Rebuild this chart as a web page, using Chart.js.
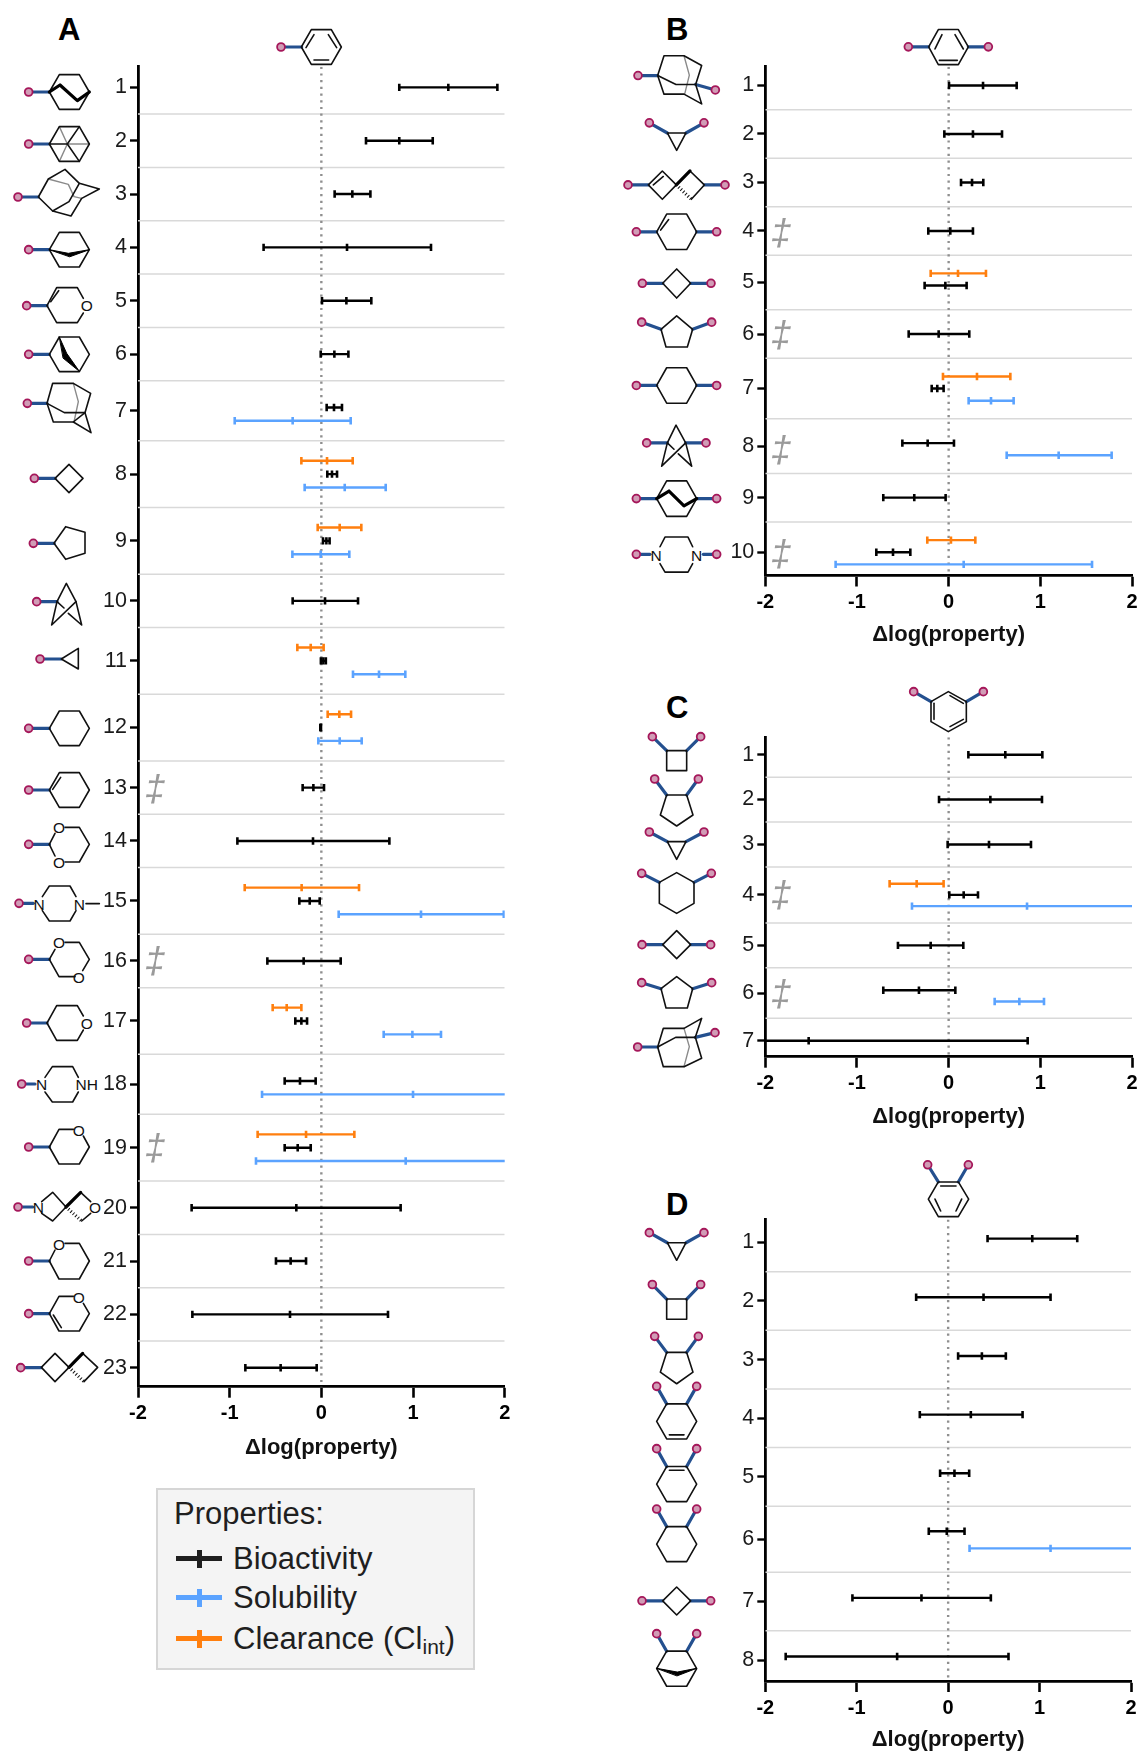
<!DOCTYPE html>
<html>
<head>
<meta charset="utf-8">
<title>Delta log(property)</title>
<script src="https://cdn.jsdelivr.net/npm/chart.js@4/dist/chart.umd.min.js"></script>
<style>
html, body { margin: 0; padding: 0; background: #fff; }
#page { position: relative; width: 1140px; height: 1753px; overflow: hidden; font-family: "Liberation Sans", Arial, sans-serif; }
#page canvas { position: absolute; }
#mols { position: absolute; left: 0; top: 0; }
.letter { position: absolute; font-weight: bold; font-size: 31px; line-height: 1; color: #000; transform: translate(-50%, -50%); }
.dagger { position: absolute; font-style: italic; font-size: 37px; line-height: 1; color: #9a9a9a; transform: translate(-50%, -50%); }
#legend { position: absolute; left: 156px; top: 1488px; width: 315px; height: 178px; background: #f4f4f4; border: 2px solid #d6d6d6; color: #1f1f1f; font-size: 31px; }
#legend div { position: absolute; left: 231px; line-height: 1; white-space: nowrap; }
#legend span.mark { position: absolute; left: 18px; width: 46px; height: 5px; }
#legend span.mark i { position: absolute; left: 20.5px; top: -6.5px; width: 5px; height: 18px; background: inherit; }
#legend sub { font-size: 21px; line-height: 0; vertical-align: -5px; }
</style>
</head>
<body>
<div id="page">
  <svg id="mols" width="1140" height="1753"></svg>
  <canvas id="panelA" width="490" height="1411" style="left:60px;top:50px"></canvas>
  <canvas id="panelB" width="452" height="598" style="left:700px;top:50px"></canvas>
  <canvas id="panelC" width="452" height="410" style="left:700px;top:720px"></canvas>
  <canvas id="panelD" width="452" height="553" style="left:700px;top:1200px"></canvas>
  <div id="legend">
    <div style="left:16px;top:8px">Properties:</div>
    <span class="mark" style="top:66px;background:#1f1f1f"><i></i></span><div style="left:75px;top:53px">Bioactivity</div>
    <span class="mark" style="top:105px;background:#5ba3ff"><i></i></span><div style="left:75px;top:92px">Solubility</div>
    <span class="mark" style="top:146px;background:#ff7f0e"><i></i></span><div style="left:75px;top:133px">Clearance (Cl<sub>int</sub>)</div>
  </div>
</div>
<script>
const aLabels = ['1','2','3','4','5','6','7','8','9','10','11','12','13','14','15','16','17','18','19','20','21','22','23'];
const aBio = [[.85,1.385,1.92],[.487,.85,1.215],[.145,.338,.535],[-.63,.28,1.196],[.007,.273,.545],[-.007,.142,.295],[.058,.138,.225],[.065,.116,.171],[.018,.055,.09],[-.313,.04,.4],[-.005,.022,.049],[-.011,-.007,-.004],[-.204,-.087,.029],[-.916,-.091,.742],[-.24,-.127,-.018],[-.589,-.193,.211],[-.284,-.218,-.156],[-.4,-.233,-.062],[-.4,-.258,-.116],[-1.415,-.273,.865],[-.495,-.335,-.167],[-1.407,-.342,.727],[-.829,-.444,-.051]];
const aSol = [null,null,null,null,null,null,[-.945,-.313,.32],[-.182,.255,.702],[-.316,-.007,.305],null,[.345,.629,.916],[-.033,.2,.44],null,null,[.189,1.087,1.99],null,[.68,.993,1.305],[-.647,1,2.65],[-.713,.92,2.55],null,null,null,null];
const aClr = [null,null,null,null,null,null,null,[-.218,.062,.342],[-.04,.2,.436],null,[-.262,-.116,.025],[.069,.196,.324],null,null,[-.836,-.215,.411],null,[-.531,-.378,-.218],null,[-.695,-.167,.36],null,null,null,null];

const bLabels = ['1','2','3','4','5','6','7','8','9','10'];
const bBio = [[.004,.375,.742],[-.047,.265,.582],[.135,.255,.378],[-.222,.018,.265],[-.262,-.036,.196],[-.436,-.109,.225],[-.185,-.124,-.055],[-.505,-.229,.058],[-.713,-.375,-.033],[-.789,-.607,-.418]];
const bSol = [null,null,null,null,null,null,[.218,.462,.709],[.633,1.2,1.778],null,[-1.233,.164,1.564]];
const bClr = [null,null,null,null,[-.196,.102,.407],null,[-.062,.309,.673],null,null,[-.233,.025,.291]];

const cLabels = ['1','2','3','4','5','6','7'];
const cBio = [[.215,.618,1.022],[-.105,.455,1.018],[-.011,.44,.898],[.007,.164,.32],[-.553,-.196,.16],[-.713,-.324,.073],[-3.9,-1.527,.862]];
const cSol = [null,null,null,[-.4,.855,2.11],null,[.502,.771,1.04],null];
const cClr = [null,null,null,[-.644,-.349,-.055],null,null,null];

const dLabels = ['1','2','3','4','5','6','7','8'];
const dBio = [[.431,.92,1.412],[-.35,.387,1.12],[.109,.369,.631],[-.31,.248,.814],[-.088,.069,.23],[-.212,-.015,.179],[-1.047,-.292,.467],[-1.777,-.558,.66]];
const dSol = [null,null,null,null,null,[.234,1.12,2.02],null,null];
const dClr = [null,null,null,null,null,null,null,null];

const xTicks = [-2,-1,0,1,2];
const xTitle = '\u0394log(property)';

const BLACK = '#000000', BLUE = '#5ba3ff', ORANGE = '#ff7f0e';

function seriesDataset(points, color){
    return {
        data: points,
        showLine: true,
        spanGaps: false,
        borderColor: color,
        borderWidth: 2.4,
        pointStyle: 'line',
        pointRotation: 90,
        pointRadius: 3.7,
        pointBorderWidth: 2.6,
        pointBorderColor: color,
        pointHoverRadius: 3.7
    };
}

function buildPanel(id, p){
    // row height in y units depends on how many properties the row has
    var centers = [], bounds = [], top = 0;
    var bio = [], sol = [], clr = [];
    var spread = p.spread || 1, shift = p.shift || 0;
    p.labels.forEach(function(l, i){
        var hasB = !!p.bio[i], hasS = !!p.sol[i], hasC = !!p.clr[i];
        var n = hasB + hasS + hasC;
        var h = 4 + (n - 1) * 0.5;
        var mid = top + h / 2;
        var off = n === 3 ? 0 : n === 2 ? (hasC ? 0.25 : -0.25) : 0;
        function add(list, v, slot){
            var y = mid + (slot + off) * spread + shift;
            list.push({x: v[0], y: y}, {x: v[1], y: y}, {x: v[2], y: y}, {x: null, y: null});
        }
        if(hasC) add(clr, p.clr[i], -1);
        if(hasB) add(bio, p.bio[i], 0);
        if(hasS) add(sol, p.sol[i], 1);
        centers.push(mid);
        top += h;
        if(i < p.labels.length - 1) bounds.push(top);
    });
    var yMin = 0.45, yMax = top - 0.58;
    var rowLines = [];
    bounds.forEach(function(b){
        rowLines.push({x: -2, y: b}, {x: 2, y: b}, {x: null, y: null});
    });
    var canvas = document.getElementById(id);
    new Chart(canvas.getContext('2d'), {
        type: 'scatter',
        data: {
            datasets: [
                seriesDataset(clr, ORANGE),
                seriesDataset(bio, BLACK),
                seriesDataset(sol, BLUE),
                {data: [{x: 0, y: yMin}, {x: 0, y: yMax}], showLine: true, borderColor: '#8f8f8f', borderWidth: 2.4, borderDash: [2.2, 4.5], pointRadius: 0},
                {data: rowLines, showLine: true, spanGaps: false, borderColor: '#d9d9d9', borderWidth: 1.5, pointRadius: 0}
            ]
        },
        options: {
            responsive: false,
            animation: false,
            events: [],
            layout: {padding: {left: 0, top: p.plotTop - p.canvasTop, right: p.canvasRight - p.plotRight, bottom: 0}},
            plugins: {legend: {display: false}, tooltip: {enabled: false}},
            scales: {
                x: {
                    type: 'linear',
                    min: -2,
                    max: 2,
                    afterBuildTicks: function(axis){ axis.ticks = xTicks.map(function(v){ return {value: v}; }); },
                    afterFit: function(axis){ axis.height = canvas.height - (p.plotBottom - p.canvasTop); },
                    border: {color: '#000', width: 2.8},
                    grid: {drawOnChartArea: false, drawTicks: true, tickLength: 11, tickWidth: 2.6, tickColor: '#000'},
                    ticks: {
                        color: '#000',
                        padding: 4,
                        autoSkip: false,
                        maxRotation: 0,
                        font: {family: '"Liberation Sans"', size: 20, weight: 'bold'},
                        callback: function(v){ return String(v); }
                    },
                    title: {display: true, text: xTitle, color: '#111', padding: {top: 0, bottom: 0}, font: {family: '"Liberation Sans"', size: 22, weight: 'bold'}}
                },
                y: {
                    type: 'linear',
                    reverse: true,
                    min: yMin,
                    max: yMax,
                    afterBuildTicks: function(axis){ axis.ticks = centers.map(function(v){ return {value: v}; }); },
                    afterFit: function(axis){ axis.width = p.plotLeft - p.canvasLeft; },
                    border: {color: '#000', width: 2.8},
                    grid: {drawOnChartArea: false, drawTicks: true, tickLength: 8, tickWidth: 2.4, tickColor: '#000'},
                    ticks: {
                        color: '#1a1a1a',
                        padding: 3,
                        autoSkip: false,
                        font: {family: '"Liberation Sans"', size: 21.5},
                        callback: function(v, i){ return p.labels[i]; }
                    }
                }
            }
        }
    });
}

buildPanel('panelA', {labels: aLabels, bio: aBio, sol: aSol, clr: aClr, canvasLeft: 60, canvasTop: 50, canvasRight: 550, plotLeft: 138, plotRight: 504.7, plotTop: 66.7, plotBottom: 1386.7});
buildPanel('panelB', {labels: bLabels, bio: bBio, sol: bSol, clr: bClr, canvasLeft: 700, canvasTop: 50, canvasRight: 1152, plotLeft: 765.3, plotRight: 1132, plotTop: 66.7, plotBottom: 575.5});
buildPanel('panelC', {labels: cLabels, bio: cBio, sol: cSol, clr: cClr, canvasLeft: 700, canvasTop: 720, canvasRight: 1152, plotLeft: 765.3, plotRight: 1132, plotTop: 737.3, plotBottom: 1056.7});
buildPanel('panelD', {labels: dLabels, bio: dBio, sol: dSol, clr: dClr, canvasLeft: 700, canvasTop: 1200, canvasRight: 1152, plotLeft: 765.3, plotRight: 1131, plotTop: 1219.6, plotBottom: 1681, shift: -0.25, spread: 1.17});

// structures, drawn in crop coordinates of each panel
var svg = document.getElementById('mols');
var NS = 'http://www.w3.org/2000/svg';

function el(tag, attrs, text){
    var e = document.createElementNS(NS, tag);
    for(var k in attrs) e.setAttribute(k, attrs[k]);
    if(text) e.textContent = text;
    svg.appendChild(e);
    return e;
}
function hexFlat(x, y, dy){
    return 'M'+(x-60)+','+y+' L'+(x-30)+','+(y-dy)+' L'+(x+30)+','+(y-dy)+' L'+(x+60)+','+y+' L'+(x+30)+','+(y+dy)+' L'+(x-30)+','+(y+dy)+' Z';
}
function mol(ox, oy, sx, sy, m){
    var tr = 'translate('+ox+','+oy+') scale('+sx+','+sy+')';
    function path(d, stroke, w, fill){
        el('path', {d: d, transform: tr, fill: fill || 'none', stroke: stroke, 'stroke-width': w, 'stroke-linejoin': 'round', 'stroke-linecap': 'round', 'vector-effect': 'non-scaling-stroke'});
    }
    (m.bonds || []).forEach(function(b){
        path('M'+b[0]+','+b[1]+' L'+b[2]+','+b[3], '#24508f', 3.2);
    });
    (m.grey || []).forEach(function(d){ path(d, '#8a8a8a', 1.4); });
    (m.ring || []).forEach(function(d){ path(d, '#111', 1.6); });
    (m.thick || []).forEach(function(d){ path(d, '#000', 3.2); });
    (m.fill || []).forEach(function(d){ path(d, '#000', 1, '#000'); });
    (m.hash || []).forEach(function(d){
        el('path', {d: d, transform: tr, fill: 'none', stroke: '#111', 'stroke-width': 3.4, 'stroke-dasharray': '1 2.2', 'vector-effect': 'non-scaling-stroke'});
    });
    (m.bonds || []).forEach(function(b){
        el('circle', {cx: ox + b[0]*sx, cy: oy + b[1]*sy, r: 3.9, fill: '#d19cb6', stroke: '#a5175a', 'stroke-width': 1.8});
    });
    (m.atoms || []).forEach(function(a){
        el('text', {x: ox + a[1]*sx, y: oy + a[2]*sy + 5.5, 'text-anchor': 'middle', 'font-family': '"Liberation Sans"', 'font-size': 15.5, fill: '#111'}, a[0]);
    });
}
var T = 1/3;

// panel A, crop units are 3x page pixels
[
  {bonds:[[843,141,905,141]], ring:[hexFlat(964,141,52),'M918,143 L942,104','M985,104 L1010,143','M942,180 L986,180']},
  {bonds:[[86,276,148,276]], ring:[hexFlat(208,276,52)], thick:['M148,276 L180,255 L232,302 L268,276']},
  {bonds:[[86,432,148,432]], ring:[hexFlat(208,432,52),'M148,432 L202,432','M238,380 L202,432 L238,484'], grey:['M178,380 L202,432 L178,484','M202,432 L268,432']},
  {bonds:[[54,591,115,591]], ring:['M115,591 L145,537 L195,508 L238,550 L298,567 L245,595 L213,648 L158,633 Z','M238,550 L207,605 L158,633'], grey:['M145,537 L205,553 L222,590 L245,595']},
  {bonds:[[86,749,148,749]], ring:[hexFlat(208,749,52)], fill:['M148,749 L205,760 L268,749 L210,770 Z']},
  {bonds:[[80,917,141,917]], ring:['M141,917 L170,863 L232,863 L250,895','M250,939 L232,968 L170,968 L141,917','M152,905 L176,872'], atoms:[['O',260,917]]},
  {bonds:[[86,1063,148,1063]], ring:[hexFlat(208,1063,52)], fill:['M178,1011 L200,1060 L238,1114 L190,1075 Z']},
  {bonds:[[82,1210,141,1210]], ring:['M141,1210 L158,1150 L220,1150 L272,1180 L255,1238 L273,1298 L220,1266 L160,1266 Z','M141,1210 L193,1238 L255,1238','M255,1238 L220,1266'], grey:['M220,1150 L235,1205 L222,1266']},
  {bonds:[[103,1435,165,1435]], ring:['M165,1435 L207,1393 L249,1435 L207,1478 Z']},
  {bonds:[[100,1630,162,1630]], ring:['M162,1630 L197,1580 L255,1597 L255,1660 L197,1678 Z']},
  {bonds:[[110,1805,171,1805]], ring:['M199,1750 L171,1805 L155,1875 L228,1805 Z','M228,1805 L245,1875 L205,1840','M171,1805 L192,1824']},
  {bonds:[[120,1977,184,1977]], ring:['M184,1977 L235,1945 L235,2007 Z']},
  {bonds:[[86,2185,148,2185]], ring:[hexFlat(208,2185,52)]},
  {bonds:[[86,2370,148,2370]], ring:[hexFlat(208,2370,52),'M158,2368 L182,2332']},
  {bonds:[[86,2533,148,2533]], ring:['M148,2533 L165,2500','M148,2533 L165,2568','M195,2482 L238,2482 L268,2533 L238,2586 L195,2586'], atoms:[['O',177,2482],['O',177,2586]]},
  {bonds:[[57,2710,100,2710]], ring:['M127,2690 L148,2658 L210,2658 L228,2690','M127,2732 L148,2763 L210,2763 L228,2732','M258,2711 L298,2711'], atoms:[['N',117,2712],['N',238,2712]]},
  {bonds:[[86,2878,148,2878]], ring:['M148,2878 L165,2848','M195,2827 L238,2827 L268,2878 L248,2912','M225,2930 L177,2930 L148,2878'], atoms:[['O',177,2828],['O',236,2932]]},
  {bonds:[[80,3069,141,3069]], ring:['M141,3069 L170,3017 L232,3017 L250,3048','M250,3090 L232,3121 L170,3121 L141,3069'], atoms:[['O',260,3069]]},
  {bonds:[[65,3252,105,3252]], ring:['M135,3232 L157,3200 L218,3200 L235,3232','M135,3276 L157,3306 L218,3306 L235,3276'], atoms:[['N',125,3254],['NH',260,3254]]},
  {bonds:[[86,3441,148,3441]], ring:['M148,3441 L177,3388 L220,3388','M250,3408 L268,3441 L238,3492 L177,3492 L148,3441'], atoms:[['O',236,3390]]},
  {bonds:[[54,3621,98,3621]], ring:['M125,3605 L158,3577 L198,3621 L158,3663 L125,3640','M242,3577 L272,3605','M272,3640 L245,3663'], thick:['M198,3621 L242,3577'], hash:['M198,3621 L245,3663'], atoms:[['N',115,3622],['O',285,3622]]},
  {bonds:[[86,3783,148,3783]], ring:['M148,3783 L165,3750','M195,3730 L238,3730 L268,3783 L238,3837 L177,3837 L148,3783'], atoms:[['O',177,3732]]},
  {bonds:[[86,3941,148,3941]], ring:['M148,3941 L177,3889 L220,3889','M250,3910 L268,3941 L238,3993 L177,3993 L148,3941','M160,3945 L184,3983'], atoms:[['O',236,3891]]},
  {bonds:[[62,4103,124,4103]], ring:['M124,4102 L165,4060 L207,4102 L165,4145 Z','M248,4060 L293,4102 L252,4145'], thick:['M207,4102 L248,4060'], hash:['M207,4102 L252,4145']}
].forEach(function(m){ mol(0, 0, T, T, m); });

// panel B
[
  {bonds:[[865,111,926,111],[1105,111,1045,111]], ring:['M926,111 L955,70 L1015,70 L1045,111 L1015,153 L955,153 Z','M945,116 L966,82','M1005,82 L1030,116','M958,143 L1012,143']},
  {bonds:[[54,179,113,179],[286,213,227,200]], ring:['M113,179 L132,132 L192,132 L245,155 L227,200 L245,246 L192,223 L132,223 Z','M113,179 L168,200 L227,200'], grey:['M192,132 L208,178 L194,223']},
  {bonds:[[88,291,142,315],[252,291,198,315]], ring:['M142,315 L198,315 L170,356 Z']},
  {bonds:[[24,438,85,438],[315,438,253,438]], ring:['M85,438 L127,405 L169,438 L127,472 Z','M100,438 L130,418','M210,405 L253,438 L214,472'], thick:['M169,438 L210,405'], hash:['M169,438 L214,472']},
  {bonds:[[49,549,110,549],[290,549,230,549]], ring:[hexFlat(170,549,42),'M122,545 L146,520']},
  {bonds:[[67,671,128,671],[273,671,212,671]], ring:['M128,671 L170,637 L212,671 L170,706 Z']},
  {bonds:[[65,763,123,780],[275,763,218,780]], ring:['M123,780 L170,748 L218,780 L202,822 L138,822 Z']},
  {bonds:[[49,913,110,913],[290,913,230,913]], ring:[hexFlat(170,913,42)]},
  {bonds:[[80,1049,142,1049],[258,1049,197,1049]], ring:['M168,1007 L142,1049 L125,1104 L197,1049 Z','M197,1049 L215,1104 L175,1075','M142,1049 L162,1064']},
  {bonds:[[49,1181,110,1181],[290,1181,230,1181]], ring:[hexFlat(170,1181,42)], thick:['M110,1181 L147,1163 L192,1198 L230,1181']},
  {bonds:[[49,1313,90,1313],[290,1313,250,1313]], ring:['M120,1295 L135,1272 L204,1272 L218,1295','M120,1335 L135,1355 L204,1355 L218,1335'], atoms:[['N',108,1315],['N',230,1315]]}
].forEach(function(m){ mol(620, 0, T, 0.4222, m); });

// panel C
[
  {bonds:[[881,35,933,65],[1090,35,1039,65]], ring:['M933,65 L985,35 L1039,65 L1039,125 L985,155 L933,125 Z','M942,70 L942,118','M990,47 L1030,70','M990,140 L1030,118']},
  {bonds:[[97,170,140,212],[242,170,200,212]], ring:['M140,212 L200,212 L200,272 L140,272 Z']},
  {bonds:[[104,297,140,345],[235,297,200,345]], ring:['M140,345 L200,345 L219,405 L170,438 L121,405 Z']},
  {bonds:[[88,456,142,485],[252,456,198,485]], ring:['M142,485 L198,485 L170,538 Z']},
  {bonds:[[65,580,118,607],[274,580,222,607]], ring:['M118,607 L170,578 L222,607 L222,670 L170,700 L118,670 Z']},
  {bonds:[[66,794,128,794],[272,794,212,794]], ring:['M128,794 L170,752 L212,794 L170,836 Z']},
  {bonds:[[65,908,123,926],[275,908,218,926]], ring:['M123,926 L170,890 L218,926 L202,984 L138,984 Z']},
  {bonds:[[53,1101,113,1101],[285,1058,226,1072]], ring:['M113,1101 L130,1045 L192,1045 L245,1015 L226,1072 L245,1135 L192,1160 L130,1160 Z','M113,1101 L167,1072 L226,1072'], grey:['M192,1045 L208,1100 L192,1160']}
].forEach(function(m){ mol(620, 680, T, T, m); });

// panel D
function hexD(y){ return 'M140,'+y+' L200,'+y+' L230,'+(y+47)+' L200,'+(y+94)+' L140,'+(y+94)+' L110,'+(y+47)+' Z'; }
[
  {bonds:[[923,-14,955,32],[1045,-14,1015,32]], ring:['M925,78 L955,32 L1015,32 L1046,78 L1015,125 L955,125 Z','M962,43 L1008,43','M945,78 L962,110','M1025,78 L1008,110']},
  {bonds:[[88,168,142,195],[252,168,198,195]], ring:['M142,195 L198,195 L170,242 Z']},
  {bonds:[[97,307,140,346],[242,307,200,346]], ring:['M140,346 L200,346 L200,400 L140,400 Z']},
  {bonds:[[104,446,140,489],[235,446,200,489]], ring:['M140,489 L200,489 L219,542 L170,573 L121,542 Z']},
  {bonds:[[110,580,140,627],[230,580,200,627]], ring:[hexD(627),'M148,710 L192,710']},
  {bonds:[[110,747,140,795],[230,747,200,795]], ring:[hexD(795),'M148,805 L192,805']},
  {bonds:[[110,909,140,956],[230,909,200,956]], ring:[hexD(956)]},
  {bonds:[[66,1155,128,1155],[272,1155,212,1155]], ring:['M128,1155 L170,1118 L212,1155 L170,1193 Z']},
  {bonds:[[110,1243,140,1290],[230,1243,200,1290]], ring:[hexD(1290)], fill:['M110,1336 L172,1346 L230,1336 L172,1356 Z']}
].forEach(function(m){ mol(620, 1170, T, 0.373, m); });

// panel letters and double daggers
var page = document.getElementById('page');
[['A',69.3,29],['B',677.3,28.7],['C',677.3,707.3],['D',677.3,1204.3]].forEach(function(t){
    var d = document.createElement('div');
    d.className = 'letter';
    d.style.left = t[1] + 'px';
    d.style.top = t[2] + 'px';
    d.textContent = t[0];
    page.appendChild(d);
});
[[155,788],[155,960],[155,1147],[781,231.8],[781,333.5],[781,449],[781,553],[781,894.3],[781,993.3]].forEach(function(t){
    var d = document.createElement('div');
    d.className = 'dagger';
    d.style.left = t[0] + 'px';
    d.style.top = t[1] + 'px';
    d.textContent = '\u2021';
    page.appendChild(d);
});
</script>
</body>
</html>
